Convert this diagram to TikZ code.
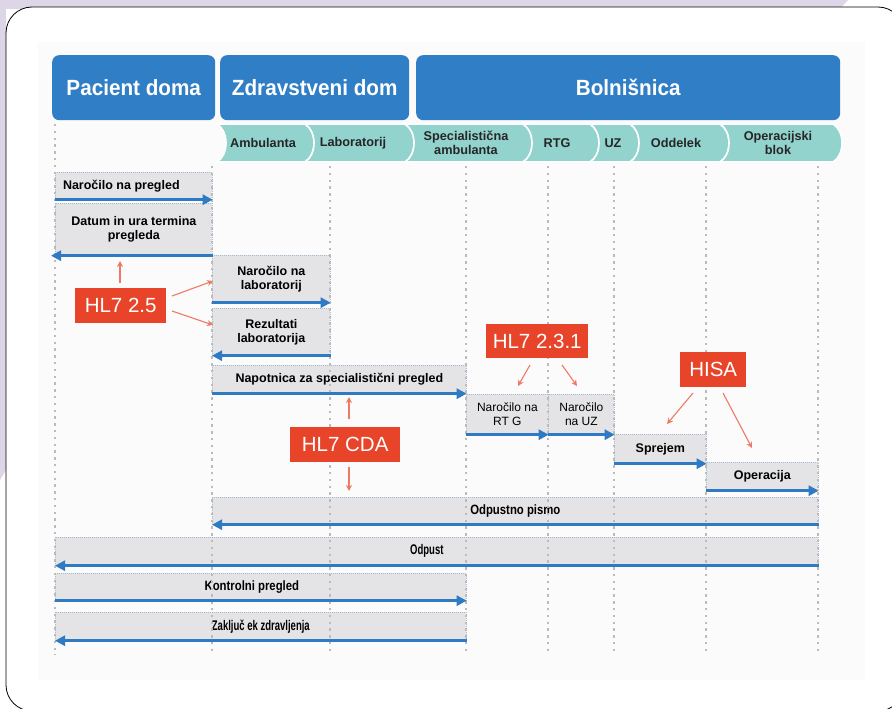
\documentclass[tikz,border=0pt]{standalone}
\usepackage{fontspec}
\setmainfont{Liberation Sans}
\newfontfamily\hdrfont[FakeStretch=0.94]{Liberation Sans}
\newfontfamily\narA[FakeStretch=1.0]{Liberation Sans}
\newfontfamily\narB[FakeStretch=0.84]{Liberation Sans}
\newfontfamily\narC[FakeStretch=0.68]{Liberation Sans}
\usetikzlibrary{arrows.meta}
\definecolor{lav}{HTML}{DCD6E7}
\definecolor{hdrblue}{HTML}{2F7EC6}
\definecolor{tealc}{HTML}{93D3CD}
\definecolor{msgfill}{HTML}{E4E4E6}
\definecolor{msgline}{HTML}{A7BCD0}
\definecolor{arrblue}{HTML}{2F7BC3}
\definecolor{lblred}{HTML}{E8442A}
\definecolor{lblarr}{HTML}{EE7A66}
\definecolor{lifec}{HTML}{BBBBBB}
\definecolor{inner}{HTML}{FBFBFB}
\newcommand\tealseg[2]{\fill[tealc, draw=white, line width=1.6pt] (#1,124) -- (#2,124) .. controls (#2+12,131) and (#2+12,155) .. (#2,162) -- (#1,162) .. controls (#1+12,155) and (#1+12,131) .. (#1,124) -- cycle;}
\tikzset{
  hdr/.style={fill=hdrblue, rounded corners=7pt, text=white, inner sep=0pt, minimum height=65pt, anchor=north west,
    font=\hdrfont\bfseries\fontsize{22}{22}\selectfont},
  sublbl/.style={font=\narA\bfseries\fontsize{12.7}{14}\selectfont, text=black!85, align=center, inner sep=0pt},
  msg/.style={fill=msgfill, draw=msgline, dash pattern=on 1pt off 1pt, line width=0.7pt, anchor=north west, inner sep=0pt,
    align=center, font=\narA\bfseries\fontsize{12.5}{14}\selectfont},
  msgthin/.style={msg, font=\narA\fontsize{12}{14}\selectfont},
  msgB/.style={msg, font=\narB\bfseries\fontsize{13.5}{14}\selectfont},
  msgC/.style={msg, font=\narC\bfseries\fontsize{14}{14}\selectfont},
  msgarr/.style={draw=arrblue, line width=3.2pt, -{Triangle[length=10pt,width=10pt]}},
  lifeline/.style={draw=lifec, line width=2.3pt, dash pattern=on 2.3pt off 4.5pt},
  redlbl/.style={fill=lblred, text=white, inner sep=0pt, anchor=north west, font=\fontsize{20.5}{20.5}\selectfont},
  redarr/.style={draw=lblarr, line width=1.1pt, -{Stealth[length=6pt,width=6pt]}}
}
\begin{document}
\begin{tikzpicture}[x=1pt,y=-1pt]
\useasboundingbox (0,0) rectangle (892,709);
% background
\fill[lav] (0,0) -- (848,0) -- (840,9) -- (6,9) -- (6,470) -- (0,480) -- cycle;
\filldraw[fill=white, draw=black, line width=0.8pt, rounded corners=26pt] (6,7) rectangle (904,711);
\fill[inner] (38,42) rectangle (865,680);
% headers
\node[hdr, minimum width=163pt] (h1) at (52,55) {Pacient doma};
\node[hdr, minimum width=189pt] (h2) at (220,55) {Zdravstveni dom};
\node[hdr, minimum width=424pt] (h3) at (416,55) {Bolnišnica};
% teal sub-headers
\tealseg{217}{305}
\tealseg{305}{405}
\tealseg{405}{523}
\tealseg{523}{590}
\tealseg{590}{630}
\tealseg{630}{720}
\tealseg{720}{833}
\node[sublbl] (s1) at (263,143) {Ambulanta};
\node[sublbl] (s2) at (353,143) {Laboratorij};
\node[sublbl] (s3) at (466,143) {Specialistična\\ambulanta};
\node[sublbl] (s4) at (557,143) {RTG};
\node[sublbl] (s5) at (613,143) {UZ};
\node[sublbl] (s6) at (676,143) {Oddelek};
\node[sublbl] (s7) at (778,143) {Operacijski\\blok};
% message boxes
\node[msg, minimum width=157pt, minimum height=27pt] (m1) at (55,172) {\hspace*{-25pt}Naročilo na pregled};
\node[msg, minimum width=157pt, minimum height=52pt] (m2) at (55,203) {Datum in ura termina\\pregleda};
\node[msg, minimum width=118pt, minimum height=47pt] (m3) at (212,255) {Naročilo na\\laboratorij};
\node[msg, minimum width=118pt, minimum height=47pt] (m4) at (212,308) {Rezultati\\laboratorija};
\node[msg, minimum width=254pt, minimum height=28pt] (m5) at (212,365) {Napotnica za specialistični pregled};
\node[msgthin, minimum width=82pt, minimum height=40pt] (m6) at (466,394) {Naročilo na\\RT G};
\node[msgthin, minimum width=66pt, minimum height=40pt] (m7) at (548,394) {Naročilo\\na UZ};
\node[msg, minimum width=92pt, minimum height=29pt] (m8) at (614,434) {Sprejem};
\node[msg, minimum width=112pt, minimum height=28pt] (m9) at (706,462) {Operacija};
\node[msgB, minimum width=606pt, minimum height=27pt] (m10) at (212,497) {Odpustno pismo};
\node[msgC, minimum width=763pt, minimum height=28pt] (m11) at (55,537) {\hspace*{-20pt}Odpust};
\node[msgB, minimum width=411pt, minimum height=27pt] (m12) at (55,573) {\hspace*{-18pt}Kontrolni pregled};
\node[msgC, minimum width=411pt, minimum height=28pt] (m13) at (55,612) {Zaključ ek zdravljenja};
% lifelines
\coordinate (p0) at (55,124);  \coordinate (p1) at (55,655);
\coordinate (a0) at (212,166); \coordinate (a1) at (212,655);
\coordinate (b0) at (330,166); \coordinate (b1) at (330,655);
\coordinate (c0) at (466,166); \coordinate (c1) at (466,655);
\coordinate (d0) at (548,166); \coordinate (d1) at (548,655);
\coordinate (e0) at (614,166); \coordinate (e1) at (614,655);
\coordinate (f0) at (706,166); \coordinate (f1) at (706,655);
\coordinate (g0) at (818,166); \coordinate (g1) at (818,655);
\foreach \l in {p,a,b,c,d,e,f,g} \draw[lifeline] (\l0) -- (\l1);
% message arrows
\draw[msgarr] (m1.south west) -- (m1.south east);
\draw[msgarr] (m2.south east) -- ([xshift=-4pt]m2.south west);
\draw[msgarr] (m3.south west) -- (m3.south east);
\draw[msgarr] (m4.south east) -- (m4.south west);
\draw[msgarr] (m5.south west) -- (m5.south east);
\draw[msgarr] (m6.south west) -- (m6.south east);
\draw[msgarr] (m7.south west) -- (m7.south east);
\draw[msgarr] (m8.south west) -- (m8.south east);
\draw[msgarr] (m9.south west) -- (m9.south east);
\draw[msgarr] (m10.south east) -- (m10.south west);
\draw[msgarr] (m11.south east) -- (m11.south west);
\draw[msgarr] (m12.south west) -- (m12.south east);
\draw[msgarr] (m13.south east) -- (m13.south west);
% red labels
\node[redlbl, minimum width=91pt, minimum height=35pt] (r1) at (75,288) {HL7 2.5};
\node[redlbl, minimum width=102pt, minimum height=34pt] (r2) at (486,324) {HL7 2.3.1};
\node[redlbl, minimum width=66pt, minimum height=35pt] (r3) at (680,352) {HISA};
\node[redlbl, minimum width=110pt, minimum height=35pt] (r4) at (290,427) {HL7 CDA};
% red arrows
\coordinate (r1a) at (120,283); \coordinate (t1a) at (120,261);
\coordinate (r1b) at (172,296); \coordinate (t1b) at (213,281);
\coordinate (r1c) at (172,311); \coordinate (t1c) at (213,325);
\coordinate (r2a) at (530,365); \coordinate (t2a) at (518,386);
\coordinate (r2b) at (562,365); \coordinate (t2b) at (577,386);
\coordinate (r3a) at (693,393); \coordinate (t3a) at (667,424);
\coordinate (r3b) at (723,393); \coordinate (t3b) at (752,448);
\coordinate (r4a) at (349,419); \coordinate (t4a) at (349,397);
\coordinate (r4b) at (349,467); \coordinate (t4b) at (349,491);
\foreach \s in {1a,1b,1c,2a,2b,3a,3b,4a,4b} \draw[redarr] (r\s) -- (t\s);
\end{tikzpicture}
\end{document}
